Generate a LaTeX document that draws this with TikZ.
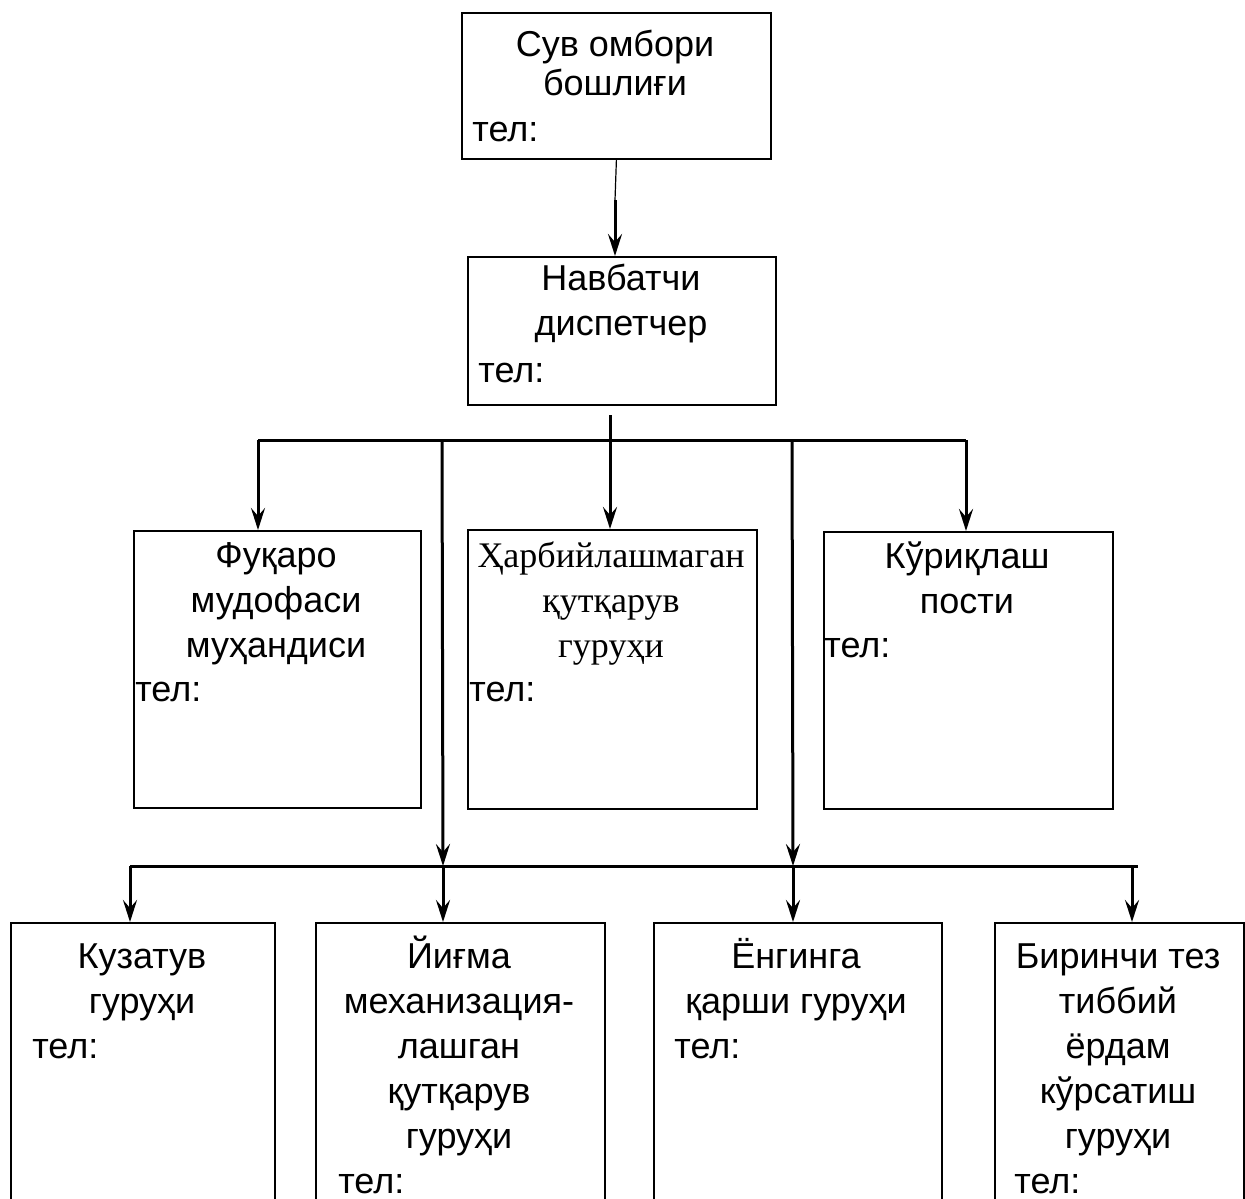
\documentclass[tikz,border=0pt]{standalone}
\usepackage{fontspec}
\setmainfont{Liberation Sans}
\newfontfamily\timesfont{Liberation Serif}
\usetikzlibrary{arrows.meta}
\tikzset{
	box/.style={draw,line width=0.9pt,anchor=north west,inner sep=0pt},
	ttl/.style={anchor=base,align=center,inner sep=0pt,font=\fontsize{18}{22.5}\selectfont},
	tel/.style={anchor=base west,inner sep=0pt,font=\fontsize{18}{22.5}\selectfont},
	bus/.style={line width=1.5pt},
	link/.style={line width=1.5pt,-{Stealth[length=11pt,width=7pt,inset=4pt]}}
}
\begin{document}
\begin{tikzpicture}[x=0.5pt,y=-0.5pt]
		\useasboundingbox (0,0) rectangle (1245,1198);
		\clip (0,0) rectangle (1245,1198);
		\node[box,minimum width=154.5pt,minimum height=73pt] (top) at (461,12) {};
		\node[box,minimum width=154pt,minimum height=74pt] (mid) at (467,256) {};
		\node[box,minimum width=143.5pt,minimum height=138.5pt] (fuk) at (133,530) {};
		\node[box,minimum width=144.5pt,minimum height=139.5pt] (harb) at (467,529) {};
		\node[box,minimum width=144.5pt,minimum height=138.5pt] (kur) at (823,531) {};
		\node[box,minimum width=132pt,minimum height=160pt] (kuz) at (10,922) {};
		\node[box,minimum width=144.5pt,minimum height=160pt] (yig) at (315,922) {};
		\node[box,minimum width=144pt,minimum height=160pt] (yon) at (653,922) {};
		\node[box,minimum width=124.5pt,minimum height=160pt] (bir) at (994,922) {};
		\node[ttl] (top-t) at (615,96) {Сув омбори\\[-3pt]бошлиғи};
		\node[tel] (top-tel) at (472,142) {тел:};
		\node[ttl] (mid-t) at (621,335) {Навбатчи\\диспетчер};
		\node[tel] (mid-tel) at (478,382) {тел:};
		\node[ttl] (fuk-t) at (276,657) {Фуқаро\\мудофаси\\муҳандиси};
		\node[tel] (fuk-tel) at (135,701) {тел:};
		\node[ttl,font=\fontsize{18}{22.5}\timesfont] (harb-t) at (611,657) {Ҳарбийлашмаган\\қутқарув\\гуруҳи};
		\node[tel] (harb-tel) at (469,701) {тел:};
		\node[ttl] (kur-t) at (967,613) {Кўриқлаш\\пости};
		\node[tel] (kur-tel) at (824,657) {тел:};
		\node[ttl] (kuz-t) at (142,1013) {Кузатув\\гуруҳи};
		\node[tel] (kuz-tel) at (32,1058) {тел:};
		\node[ttl] (yig-t) at (459,1148) {Йиғма\\механизация-\\лашган\\қутқарув\\гуруҳи};
		\node[tel] (yig-tel) at (338,1193) {тел:};
		\node[ttl] (yon-t) at (796,1013) {Ёнгинга\\қарши гуруҳи};
		\node[tel] (yon-tel) at (674,1058) {тел:};
		\node[ttl] (bir-t) at (1118,1148) {Биринчи тез\\тиббий\\ёрдам\\кўрсатиш\\гуруҳи};
		\node[tel] (bir-tel) at (1014,1193) {тел:};
		\coordinate (k1) at (615,200);
		\coordinate (d1) at (610,415);
		\coordinate (b1l) at (258,440);
		\coordinate (b1r) at (966,440);
		\coordinate (v1) at (442,440);
		\coordinate (v2) at (792,440);
		\coordinate (b2l) at (130,866);
		\coordinate (b2r) at (1138,866);
		\coordinate (w2) at (443,866);
		\coordinate (w3) at (793,866);
		\coordinate (w4) at (1132,866);
		\draw[line width=0.6pt] (top.south) to (k1);
		\draw[link] (k1) to (k1 |- mid.north);
		\draw[link] (d1) to (d1 |- harb.north);
		\draw[bus] (b1l) to (b1r);
		\draw[link] (b1l) to (b1l |- fuk.north);
		\draw[link] (b1r) to (b1r |- kur.north);
		\draw[link] (v1) to (w2);
		\draw[link] (v2) to (w3);
		\draw[bus] (b2l) to (b2r);
		\draw[link] (b2l) to (b2l |- kuz.north);
		\draw[link] (w2) to (w2 |- yig.north);
		\draw[link] (w3) to (w3 |- yon.north);
		\draw[link] (w4) to (w4 |- bir.north);
	\end{tikzpicture}
\end{document}
